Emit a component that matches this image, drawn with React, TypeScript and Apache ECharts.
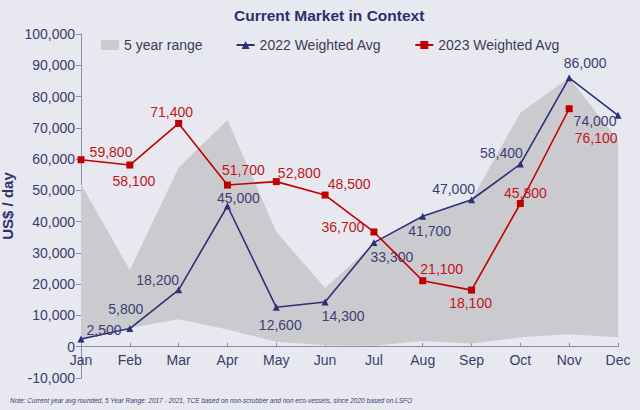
import React, { useEffect, useRef } from "react";
import * as echarts from "echarts";

const months = ["Jan", "Feb", "Mar", "Apr", "May", "Jun", "Jul", "Aug", "Sep", "Oct", "Nov", "Dec"];
const range5yLow = [2000, 6000, 8800, 5500, 1600, 500, 300, 1800, 1000, 3000, 4000, 3000];
const range5yHigh = [52000, 24500, 57300, 72500, 36800, 18800, 33000, 41500, 47000, 74800, 86000, 66000];
const avg2022 = [2500, 5800, 18200, 45000, 12600, 14300, 33300, 41700, 47000, 58400, 86000, 74000];
const avg2023 = [59800, 58100, 71400, 51700, 52800, 48500, 36700, 21100, 18100, 45800, 76100, null];
const yMin = -10000;
const yMax = 100000;
const yInterval = 10000;

const off2022 = [[23, -9], [-4, -20], [-21, -10], [11, -8], [4, 18], [18, 14], [18, 14], [7, 15], [-18, -11], [-19, -11], [16, -15], [-23, 6]];
const off2023 = [[30, -8], [4, 16], [-7, -11], [16, -15], [23, -9], [24, -11], [-31, -5], [19, -12], [-1, 13], [5, -10], [27, 29]];

const NAVY = "#2f2f78";
const RED = "#c00000";
const AXIS_TEXT = "#3b3b6b";
const AXIS_LINE = "#8c8cab";
const FONT = "'Liberation Sans', Arial, sans-serif";

const fmt = (v: number) => v.toLocaleString("en-US");

export default function App() {
  const ref = useRef<HTMLDivElement>(null);
  useEffect(() => {
    if (!ref.current) return;
    const chart = echarts.init(ref.current, undefined, { renderer: "svg" });
    const bandDiff = range5yHigh.map((h, i) => h - range5yLow[i]);
    const mkData = (vals: (number | null)[], offs: number[][]) =>
      vals.map((v, i) => (v == null ? null : { value: v, label: { offset: offs[i] } }));
    chart.setOption({
      animation: false,
      backgroundColor: "#e8e9f0",
      textStyle: { fontFamily: FONT },
      title: {
        text: "Current Market in Context",
        left: 229,
        top: 2,
        textStyle: { fontSize: 15.5, fontWeight: "bold", color: "#2b2e6e", fontFamily: FONT },
      },
      legend: {
        left: 96,
        top: 33,
        itemGap: 33,
        itemWidth: 18,
        itemHeight: 10,
        textStyle: { fontSize: 14, color: "#3b3b5b", fontFamily: FONT },
        data: [
          { name: "5 year range", icon: "rect" },
          { name: "2022 Weighted Avg" },
          { name: "2023 Weighted Avg" },
        ],
      },
      grid: { left: 81, right: 22, top: 34, bottom: 32, containLabel: false, outerBoundsMode: "none" },
      xAxis: [
        {
          type: "category",
          data: months,
          boundaryGap: false,
          axisLine: { onZero: true, lineStyle: { color: AXIS_LINE, width: 1 } },
          axisTick: { inside: true, length: 4, alignWithLabel: true, lineStyle: { color: AXIS_LINE } },
          axisLabel: { show: false },
        },
        {
          type: "category",
          data: months,
          position: "bottom",
          boundaryGap: false,
          axisLine: { show: false, onZero: false },
          axisTick: { show: false },
          axisLabel: { color: AXIS_TEXT, fontSize: 14, margin: -25, fontFamily: FONT },
        },
      ],
      yAxis: {
        type: "value",
        min: yMin,
        max: yMax,
        interval: yInterval,
        name: "US$ / day",
        nameLocation: "middle",
        nameRotate: 90,
        nameGap: 66,
        nameMoveOverlap: false,
        nameTextStyle: { fontSize: 15, fontWeight: "bold", color: "#2e3070", fontFamily: FONT },
        axisLine: { show: true, onZero: false, lineStyle: { color: AXIS_LINE } },
        axisTick: { show: true, length: 5, lineStyle: { color: AXIS_LINE } },
        splitLine: { show: false },
        axisLabel: { color: AXIS_TEXT, fontSize: 14, margin: 6, formatter: (v: number) => fmt(v), fontFamily: FONT },
      },
      series: [
        {
          name: "base",
          type: "line",
          data: range5yLow,
          stack: "band",
          symbol: "none",
          lineStyle: { opacity: 0 },
          silent: true,
          z: 1,
        },
        {
          name: "5 year range",
          type: "line",
          data: bandDiff,
          stack: "band",
          symbol: "none",
          itemStyle: { color: "#cbcbcf" },
          lineStyle: { width: 0, opacity: 0 },
          areaStyle: { color: "#cbcbcf", opacity: 1 },
          silent: true,
          z: 1,
        },
        {
          name: "2022 Weighted Avg",
          type: "line",
          data: mkData(avg2022, off2022),
          symbol: "triangle",
          symbolSize: 7,
          itemStyle: { color: NAVY },
          lineStyle: { color: NAVY, width: 1.6 },
          label: {
            show: true,
            position: "inside",
            align: "center",
            verticalAlign: "middle",
            color: "#3d3d75",
            fontSize: 14,
            fontFamily: FONT,
            formatter: (p: any) => fmt(p.value),
          },
          z: 3,
        },
        {
          name: "2023 Weighted Avg",
          type: "line",
          data: mkData(avg2023, off2023),
          symbol: "rect",
          symbolSize: 7,
          itemStyle: { color: RED },
          lineStyle: { color: RED, width: 1.6 },
          label: {
            show: true,
            position: "inside",
            align: "center",
            verticalAlign: "middle",
            color: "#c0141a",
            fontSize: 14,
            fontFamily: FONT,
            formatter: (p: any) => fmt(p.value),
          },
          z: 4,
        },
      ],
      graphic: [
        {
          type: "text",
          left: 10,
          top: 397,
          style: {
            text: "Note: Current year avg rounded, 5 Year Range: 2017 - 2021, TCE based on non-scrubber and non eco-vessels, since 2020 based on LSFO",
            fontSize: 6.5,
            fontStyle: "italic",
            fill: "#3b3b7b",
            fontFamily: FONT,
          },
        },
      ],
    });
    return () => chart.dispose();
  }, []);
  return <div ref={ref} style={{ position: "fixed", left: 0, top: 0, width: 640, height: 410 }} />;
}
